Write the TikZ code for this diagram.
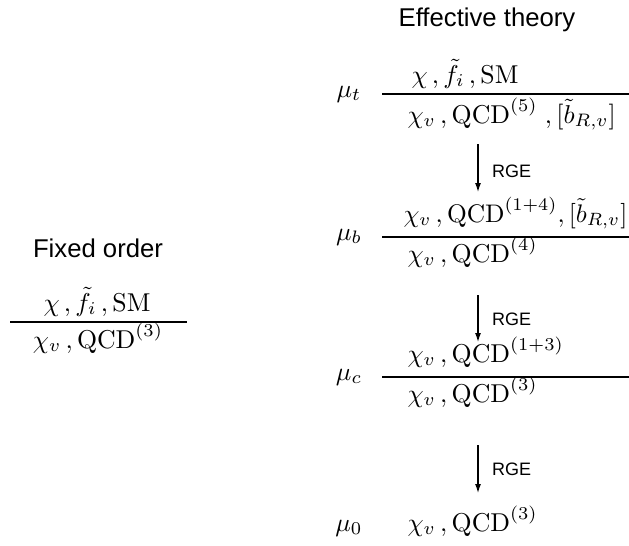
\documentclass[tikz,border=0pt]{standalone}
\usepackage{amsmath}
\usepackage{fontspec}
\newfontfamily\helv{Liberation Sans}
\usetikzlibrary{arrows.meta}
\tikzset{
  mathtxt/.style={inner sep=0pt, font=\fontsize{10}{12}\selectfont, scale=2.58},
  lab/.style={inner sep=0pt, font=\helv\fontsize{25.7}{30}\selectfont},
  rge/.style={inner sep=0pt, font=\helv\fontsize{18}{21}\selectfont},
  fracline/.style={line width=1.4pt},
  arr/.style={line width=1.2pt, -{Latex[length=9pt,width=6pt]}}
}
\begin{document}
\begin{tikzpicture}[x=1pt,y=-1pt]
\useasboundingbox (0,0) rectangle (629,546);
% titles
\node[lab, anchor=base] (eff) at (487,27) {Effective theory};
\node[lab, anchor=base] (fix) at (98,257) {Fixed order};
% fixed order fraction
\node[mathtxt, anchor=base] (fn) at (97,311) {$\chi\,,\tilde f_i\,,\mathrm{SM}$};
\draw[fracline] (10,322) -- (187,322);
\node[mathtxt, anchor=base] (fd) at (98,348) {$\chi_v\,,\mathrm{QCD}^{(3)}$};
% mu_t
\node[mathtxt, anchor=base] (mt) at (349,97) {$\mu_t$};
\draw[fracline] (382,94) -- (629,94);
\node[mathtxt, anchor=base west] (tn) at (411,83) {$\chi\,,\tilde f_i\,,\mathrm{SM}$};
\node[mathtxt, anchor=base west] (td) at (407,123) {$\chi_v\,,\mathrm{QCD}^{(5)}\;,[\tilde b_{R,v}]$};
% mu_b
\node[mathtxt, anchor=base] (mb) at (349,240) {$\mu_b$};
\draw[fracline] (382,237) -- (629,237);
\node[mathtxt, scale=0.985, anchor=base west] (bn) at (403,222) {$\chi_v\,,\mathrm{QCD}^{(1+4)},[\tilde b_{R,v}]$};
\node[mathtxt, anchor=base west] (bd) at (407,262) {$\chi_v\,,\mathrm{QCD}^{(4)}$};
% mu_c
\node[mathtxt, anchor=base] (mc) at (349,380) {$\mu_c$};
\draw[fracline] (382,377) -- (629,377);
\node[mathtxt, anchor=base west] (cn) at (407,362) {$\chi_v\,,\mathrm{QCD}^{(1+3)}$};
\node[mathtxt, anchor=base west] (cd) at (407,402) {$\chi_v\,,\mathrm{QCD}^{(3)}$};
% mu_0
\node[mathtxt, anchor=base] (m0) at (349,531) {$\mu_0$};
\node[mathtxt, anchor=base west] (zn) at (407,531) {$\chi_v\,,\mathrm{QCD}^{(3)}$};
% arrows
\coordinate (a1s) at (478,144); \coordinate (a1e) at (478,192);
\coordinate (a2s) at (478,295); \coordinate (a2e) at (478,342);
\coordinate (a3s) at (478,445); \coordinate (a3e) at (478,493);
\draw[arr] (a1s) -- (a1e);
\draw[arr] (a2s) -- (a2e);
\draw[arr] (a3s) -- (a3e);
\node[rge, anchor=base west] (r1) at (492,177) {RGE};
\node[rge, anchor=base west] (r2) at (492,325) {RGE};
\node[rge, anchor=base west] (r3) at (492,475) {RGE};
\end{tikzpicture}
\end{document}
